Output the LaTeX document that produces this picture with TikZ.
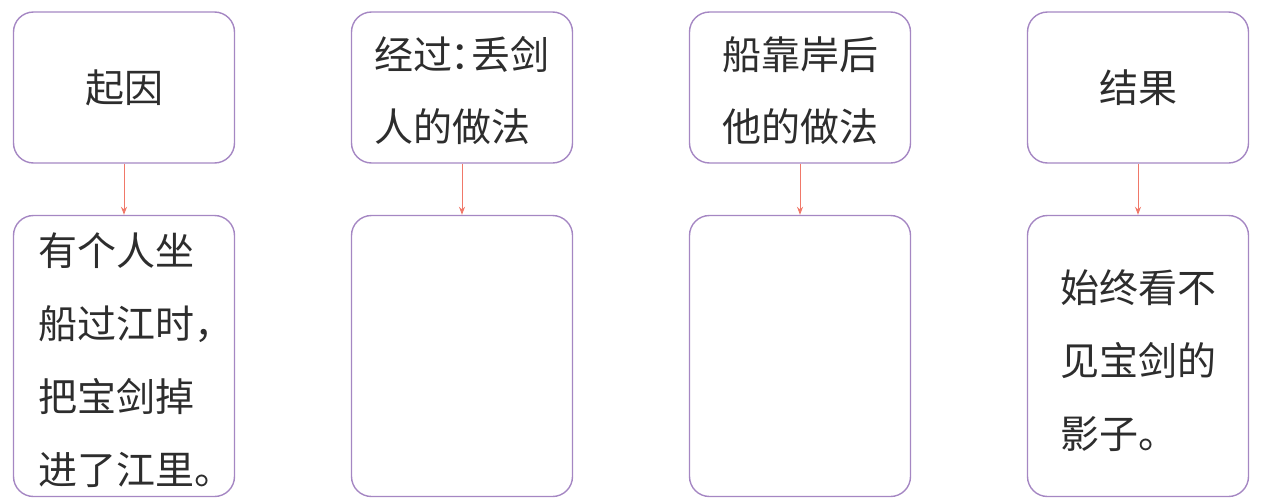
\documentclass[tikz,border=0pt]{standalone}
\usepackage{fontspec}
\newfontfamily\cjk{Noto Sans CJK SC}
\usetikzlibrary{arrows.meta}
\definecolor{boxline}{RGB}{165,135,195}
\definecolor{arrowc}{RGB}{240,120,105}
\definecolor{txt}{RGB}{45,45,45}
\newcommand{\npunct}[1]{\makebox[0.4em][l]{#1}}
\tikzset{
  topbox/.style={draw=boxline, line width=1.4pt, rounded corners=20pt, minimum width=221pt, minimum height=151pt, inner sep=0pt},
  botbox/.style={draw=boxline, line width=1.4pt, rounded corners=20pt, minimum width=221pt, minimum height=281pt, inner sep=0pt},
  toptxt/.style={align=left, text=txt, font=\cjk\fontsize{39}{72}\selectfont, inner sep=0pt},
  bottxt/.style={align=left, text=txt, font=\cjk\fontsize{39}{73}\selectfont, inner sep=0pt},
  link/.style={draw=arrowc, line width=1pt, -{Stealth[length=8pt,width=6pt]}}
}
\begin{document}
\begin{tikzpicture}[x=1pt,y=-1pt]
\useasboundingbox (0,0) rectangle (1262,501);
\node[topbox] (t1) at (124,87.5) {};
\node[topbox] (t2) at (462,87.5) {};
\node[topbox] (t3) at (800,87.5) {};
\node[topbox] (t4) at (1138,87.5) {};
\node[botbox] (b1) at (124,356) {};
\node[botbox] (b2) at (462,356) {};
\node[botbox] (b3) at (800,356) {};
\node[botbox] (b4) at (1138,356) {};
\node[toptxt] (t1x) at (t1.center) {起因};
\node[toptxt, yshift=-3.5pt] (t2x) at (t2.center) {经过\makebox[0.5em][l]{\hspace{-0.05em}：}丢剑\\人的做法};
\node[toptxt, yshift=-3.5pt] (t3x) at (t3.center) {船靠岸后\\他的做法};
\node[toptxt] (t4x) at (t4.center) {结果};
\node[bottxt, yshift=-4pt] (b1x) at (b1.center) {有个人坐\\船过江时\npunct{，}\\把宝剑掉\\进了江里\npunct{。}};
\node[bottxt, yshift=-5pt] (b4x) at (b4.center) {始终看不\\见宝剑的\\影子\npunct{。}};
\foreach \i in {1,2,3,4} \draw[link] (t\i.south) -- (b\i.north);
\end{tikzpicture}
\end{document}
